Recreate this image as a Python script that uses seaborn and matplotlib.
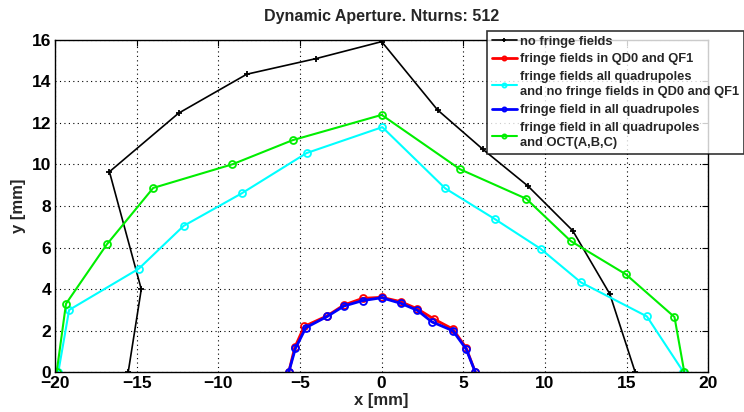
import numpy as np
import pandas as pd
import matplotlib
matplotlib.use("Agg")
import matplotlib.pyplot as plt
import seaborn as sns

# Dynamic aperture boundaries (x, y in mm) for each lattice configuration
no_fringe_x = [-15.52, -14.72, -16.67, -12.44, -8.26, -4.03, 0.0, 3.42, 6.2, 8.96, 11.7, 13.97, 15.52]
no_fringe_y = [0.0, 3.99, 9.65, 12.47, 14.35, 15.1, 15.92, 12.63, 10.73, 8.96, 6.81, 3.76, 0.0]

qd0_qf1_x = [-5.69, -5.32, -4.74, -3.33, -2.31, -1.17, 0.0, 1.17, 2.19, 3.21, 4.36, 5.17, 5.73]
qd0_qf1_y = [0.0, 1.19, 2.2, 2.71, 3.23, 3.55, 3.6, 3.39, 3.04, 2.55, 2.07, 1.17, 0.0]

all_quads_no_ff_x = [-19.8, -19.14, -14.87, -12.13, -8.57, -4.6, 0.04, 3.89, 6.95, 9.73, 12.2, 16.24, 18.48]
all_quads_no_ff_y = [0.0, 2.99, 4.98, 7.04, 8.61, 10.55, 11.8, 8.85, 7.36, 5.94, 4.32, 2.68, 0.0]

all_quads_x = [-5.69, -5.28, -4.64, -3.33, -2.31, -1.17, 0.0, 1.17, 2.19, 3.07, 4.36, 5.17, 5.73]
all_quads_y = [0.0, 1.14, 2.14, 2.68, 3.18, 3.44, 3.58, 3.31, 2.97, 2.42, 1.99, 1.11, 0.0]

all_quads_oct_x = [-19.9, -19.33, -16.83, -13.99, -9.14, -5.46, 0.0, 4.8, 8.85, 11.58, 14.95, 17.93, 18.53]
all_quads_oct_y = [0.0, 3.29, 6.15, 8.87, 10.01, 11.17, 12.39, 9.77, 8.35, 6.31, 4.71, 2.65, 0.0]

labels = [
    "no fringe fields",
    "fringe fields in QD0 and QF1",
    "fringe fields all quadrupoles\nand no fringe fields in QD0 and QF1",
    "fringe field in all quadrupoles",
    "fringe field in all quadrupoles\nand OCT(A,B,C)",
]

x_ticks = [-20, -15, -10, -5, 0, 5, 10, 15, 20]
y_ticks = [0, 2, 4, 6, 8, 10, 12, 14, 16]

sns.set_style("white")
plt.rcParams["font.family"] = ["Liberation Sans", "DejaVu Sans"]
plt.rcParams["font.weight"] = "bold"

fig = plt.figure(figsize=(7.44, 4.12), dpi=100)
ax = fig.add_axes([0.074, 0.097, 0.878, 0.806])

series = [
    (no_fringe_x, no_fringe_y, "black", "+", 1.2, 4),
    (qd0_qf1_x, qd0_qf1_y, "#ff0000", "o", 2.0, 5),
    (all_quads_no_ff_x, all_quads_no_ff_y, "#00ffff", "o", 1.5, 5),
    (all_quads_x, all_quads_y, "#0000ff", "o", 2.0, 5),
    (all_quads_oct_x, all_quads_oct_y, "#00ee00", "o", 1.5, 5),
]

handles = []
for (xs, ys, color, marker, lw, ms), label in zip(series, labels):
    df = pd.DataFrame({"x": xs, "y": ys})
    sns.lineplot(
        data=df, x="x", y="y", sort=False, estimator=None, ax=ax,
        color=color, lw=lw, marker=marker, markersize=ms,
        markerfacecolor="none", markeredgecolor=color, markeredgewidth=1.3,
        label=label, legend=False,
    )
    handles.append(ax.lines[-1])

ax.set_xlim(-20, 20)
ax.set_ylim(0, 16)
ax.set_xticks(x_ticks)
ax.set_yticks(y_ticks)
ax.set_xticklabels([f"{t:g}".replace("-", "\u2212") for t in x_ticks], fontsize=12.5, fontweight="bold")
ax.set_yticklabels([f"{t:g}" for t in y_ticks], fontsize=12.5, fontweight="bold")
ax.tick_params(direction="in", length=4, width=0.8, top=True, right=True, pad=3, colors="black")
ax.grid(True, linestyle=(0, (1, 3)), color="black", linewidth=0.8)
for sp in ax.spines.values():
    sp.set_visible(True)
    sp.set_color("black")
    sp.set_linewidth(1.0)

ax.set_xlabel("x [mm]", fontsize=12, fontweight="bold", labelpad=1)
ax.set_ylabel("y [mm]", fontsize=12, fontweight="bold", labelpad=4)
ax.set_title("Dynamic Aperture. Nturns: 512", fontsize=11.5, fontweight="bold", pad=14)

leg = fig.legend(
    handles, labels, loc="upper left", bbox_to_anchor=(487 / 744, 1 - 31 / 412),
    frameon=True, fancybox=False, edgecolor="black",
    handlelength=2.0, handletextpad=0.2, borderpad=0.35, labelspacing=0.45,
    borderaxespad=0, prop={"weight": "bold", "size": 9.3},
)
leg.get_frame().set_linewidth(1.2)
for t in leg.get_texts():
    t.set_linespacing(1.35)
for h in leg.legend_handles:
    h.set_markersize(3)

fig.savefig("out.png", dpi=100)
